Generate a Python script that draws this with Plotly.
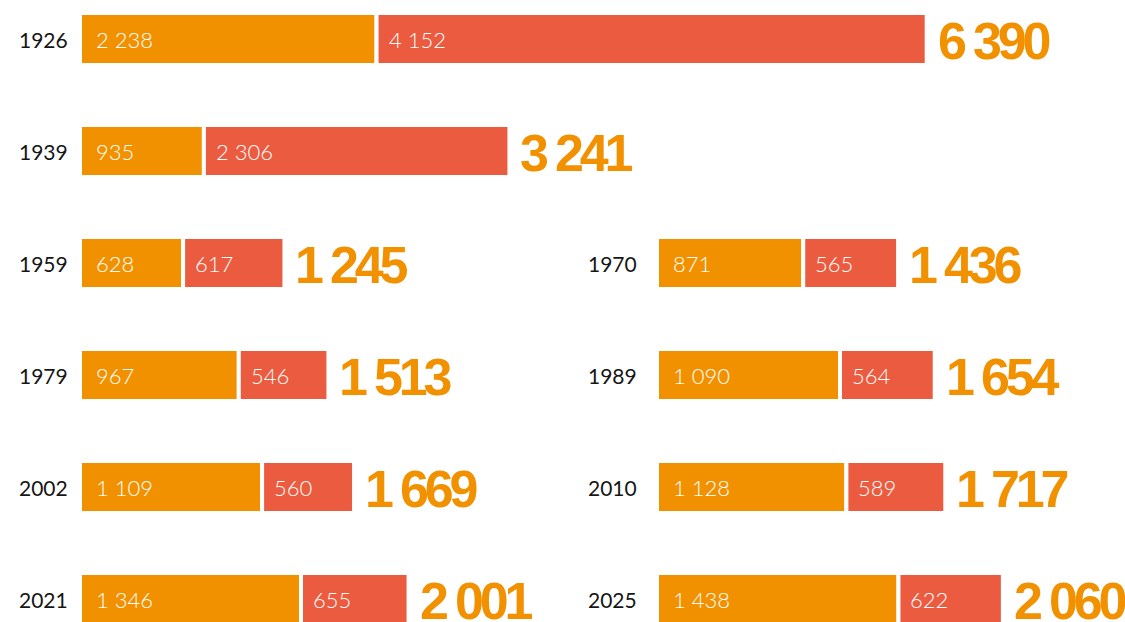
import plotly.graph_objects as go

# ---- data ----
years_left = ["1926", "1939", "1959", "1979", "2002", "2021"]
first_left = [2238, 935, 628, 967, 1109, 1346]
second_left = [4152, 2306, 617, 546, 560, 655]
rows_left = [0, 1, 2, 3, 4, 5]

years_right = ["1970", "1989", "2010", "2025"]
first_right = [871, 1090, 1128, 1438]
second_right = [565, 564, 589, 622]
rows_right = [2, 3, 4, 5]

ORANGE = "#F29100"
RED = "#EB5B40"
W, H = 1125, 622


def fmt(v):
    return f"{v:,}".replace(",", " ")


fig = go.Figure()

groups = [
    (rows_left[:2], years_left[:2], first_left[:2], second_left[:2], "x"),
    (rows_left[2:], years_left[2:], first_left[2:], second_left[2:], "x2"),
    (rows_right, years_right, first_right, second_right, "x3"),
]

BAR_W = 52 / 112
annotations = []
inner_font = dict(family="Lato", size=22, color="white", weight=300)
for rows, yrs, f, s, xa in groups:
    fig.add_trace(go.Bar(
        y=rows, x=f, base=[0] * len(f), orientation="h", width=BAR_W,
        marker=dict(color=ORANGE, line=dict(color="white", width=4)),
        xaxis=xa, yaxis="y", hoverinfo="skip", showlegend=False))
    fig.add_trace(go.Bar(
        y=rows, x=s, base=f, orientation="h", width=BAR_W,
        marker=dict(color=RED, line=dict(color="white", width=4)),
        xaxis=xa, yaxis="y", hoverinfo="skip", showlegend=False))
    for r, a, b in zip(rows, f, s):
        annotations.append(dict(
            x=0, y=r, xref=xa, yref="y", text=fmt(a), showarrow=False,
            xanchor="left", yanchor="middle", xshift=14, font=inner_font))
        annotations.append(dict(
            x=a, y=r, xref=xa, yref="y", text=fmt(b), showarrow=False,
            xanchor="left", yanchor="middle", xshift=10, font=inner_font))
        annotations.append(dict(
            x=a + b, y=r, xref=xa, yref="y",
            text='<span style="letter-spacing:-4.2px">' + fmt(a + b) + "</span>",
            showarrow=False, xanchor="left", yanchor="middle", xshift=9, yshift=-2,
            font=dict(family="Liberation Sans", size=52, color=ORANGE,
                      weight="bold")))

year_font = dict(family="Lato", size=21, color="#161616")
for r, yv in zip(rows_left, years_left):
    annotations.append(dict(
        x=17 / W, y=r, xref="paper", yref="y", text=yv, showarrow=False,
        xanchor="left", yanchor="middle", font=year_font))
for r, yv in zip(rows_right, years_right):
    annotations.append(dict(
        x=586 / W, y=r, xref="paper", yref="y", text=yv, showarrow=False,
        xanchor="left", yanchor="middle", font=year_font))

x0 = 80 / W
x3_0 = 657 / W
hidden = dict(visible=False, showgrid=False, zeroline=False, fixedrange=True)
fig.update_layout(
    width=W, height=H,
    margin=dict(l=0, r=0, t=0, b=0),
    paper_bgcolor="white", plot_bgcolor="rgba(0,0,0,0)",
    barmode="overlay",
    xaxis=dict(domain=[x0, 1], range=[0, (W - 80) / 0.1325], **hidden),
    xaxis2=dict(domain=[x0, 1], range=[0, (W - 80) / 0.1642], anchor="y", **hidden),
    xaxis3=dict(domain=[x3_0, 1], range=[0, (W - 657) / 0.1679], anchor="y", **hidden),
    yaxis=dict(domain=[0, 1], range=[(H - 39) / 112, -39 / 112], **hidden),
    annotations=annotations,
)

fig.write_html("out.html", config={"displayModeBar": False},
               post_script="document.body.style.margin='0';")
